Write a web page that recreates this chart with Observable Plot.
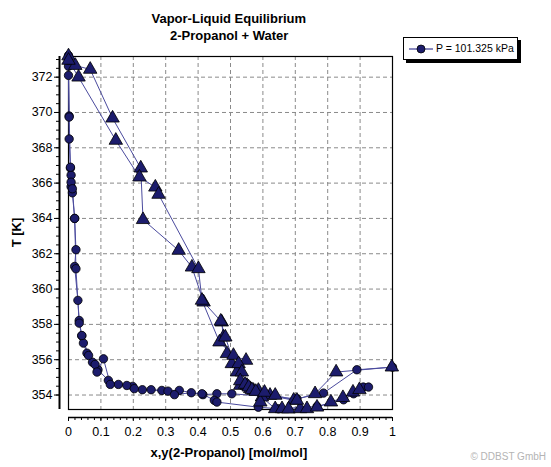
<!DOCTYPE html>
<html><head><meta charset="utf-8">
<script src="https://cdn.jsdelivr.net/npm/d3@7"></script>
<script src="https://cdn.jsdelivr.net/npm/@observablehq/plot@0.6"></script>
<style>
body{margin:0;background:#fff;font-family:"Liberation Sans",Arial,sans-serif;}
#wrap{position:relative;width:551px;height:467px;overflow:hidden;background:#fff;}
#wrap svg.plot{position:absolute;left:0;top:0;}
.t{position:absolute;font-weight:bold;font-size:13px;color:#000;white-space:nowrap;line-height:1;}
#legend{position:absolute;left:403px;top:37px;width:113px;height:21px;border:1px solid #000;background:#fff;box-shadow:3px 3px 0 #000;font-size:10.5px;}
#legend span{position:absolute;left:32px;top:4px;white-space:nowrap;}
#legend svg{position:absolute;left:5px;top:4px;}
#copy{position:absolute;right:5px;top:452px;font-size:10px;line-height:1;color:#b4b4b4;white-space:nowrap;}
</style></head><body><div id="wrap"></div>
<script>
// ---- data ----
const title1 = "Vapor-Liquid Equilibrium";
const title2 = "2-Propanol + Water";
const xTitle = "x,y(2-Propanol) [mol/mol]";
const yTitle = "T [K]";
const legendLabel = "P = 101.325 kPa";

const xTicks = [0, 0.1, 0.2, 0.3, 0.4, 0.5, 0.6, 0.7, 0.8, 0.9, 1];
const xGrid = [0.1, 0.2, 0.3, 0.4, 0.5, 0.6, 0.7, 0.8, 0.9];
const yTicks = [354, 356, 358, 360, 362, 364, 366, 368, 370, 372];
const xDomain = [0, 1];
const yDomain = [353.18, 373.17];

// liquid (x) series 1
const liq1X = [0, 0, 0.002, 0.002, 0.006, 0.008, 0.008, 0.012, 0.019, 0.023, 0.019, 0.029, 0.033, 0.041, 0.046, 0.057, 0.074, 0.091, 0.123, 0.154, 0.198, 0.228, 0.288, 0.342, 0.415, 0.458, 0.504, 0.705, 0.787, 0.89, 1.0];
const liq1T = [373.23, 372.62, 369.8, 368.5, 366.85, 366.45, 365.8, 365.45, 364.0, 362.23, 361.28, 359.36, 358.22, 357.35, 356.94, 356.37, 355.86, 355.43, 354.83, 354.6, 354.49, 354.3, 354.26, 354.26, 354.02, 354.07, 354.07, 353.79, 354.11, 355.43, 355.58];
// liquid (x) series 2
const liq2X = [0, 0, 0.002, 0.006, 0.008, 0.012, 0.019, 0.023, 0.033, 0.041, 0.062, 0.082, 0.088, 0.108, 0.129, 0.18, 0.203, 0.255, 0.307, 0.327, 0.379, 0.412, 0.45, 0.458, 0.586, 0.648, 0.767, 0.849, 0.88, 0.91, 0.926];
const liq2T = [372.95, 372.1, 369.74, 366.9, 366.05, 365.68, 364.0, 361.15, 358.07, 357.37, 356.24, 355.73, 355.3, 356.05, 354.6, 354.54, 354.36, 354.3, 354.22, 354.02, 354.13, 354.07, 353.7, 353.6, 353.31, 353.22, 353.35, 353.73, 354.07, 354.45, 354.45];
// vapour (y) series 1
const vap1X = [0, 0.021, 0.067, 0.136, 0.223, 0.23, 0.34, 0.381, 0.417, 0.473, 0.478, 0.489, 0.504, 0.52, 0.53, 0.561, 0.586, 0.622, 0.695, 0.761, 0.826, 0.998];
const vap1T = [373.2, 372.66, 372.44, 369.68, 366.85, 363.93, 362.19, 361.24, 359.26, 358.13, 357.28, 356.34, 355.77, 355.3, 354.54, 354.36, 354.26, 353.98, 353.7, 354.07, 355.3, 355.58];
// vapour (y) series 2
const vap2X = [0, 0.031, 0.146, 0.219, 0.268, 0.278, 0.401, 0.412, 0.466, 0.509, 0.548, 0.525, 0.535, 0.551, 0.571, 0.597, 0.638, 0.659, 0.679, 0.715, 0.736, 0.767, 0.81, 0.847, 0.878, 0.898];
const vap2T = [372.95, 372.0, 368.42, 366.34, 365.77, 365.36, 361.15, 359.36, 357.0, 356.24, 355.96, 355.77, 355.3, 354.54, 354.26, 353.88, 353.22, 353.22, 353.2, 353.22, 353.22, 353.31, 353.6, 353.85, 354.16, 354.3];
// vapour (y) series 3
const vap3X = [0.47, 0.484, 0.53, 0.545, 0.556, 0.566, 0.578, 0.592, 0.605, 0.638, 0.705];
const vap3T = [358.18, 357.28, 354.8, 354.6, 354.45, 354.3, 354.2, 353.6, 354.15, 353.98, 353.7];

// ---- build tables ----
const mk = (xs, ts, series, phase) => xs.map((x, i) => ({x, T: ts[i], series, phase}));
const liquid = [...mk(liq1X, liq1T, "L1", "x"), ...mk(liq2X, liq2T, "L2", "x")];
const vapour = [...mk(vap1X, vap1T, "V1", "y"), ...mk(vap2X, vap2T, "V2", "y"), ...mk(vap3X, vap3T, "V3", "y")];
const all = [...liquid, ...vapour];

const xMinor = d3.range(0, 1.0001, 0.02);
const yMinor = d3.range(354, 373.1, 0.5);

const navy = "#1c1c6c";
const lineCol = "#4b4b9e";
const fmtX = d => String(+d.toFixed(1));

const chart = Plot.plot({
  width: 551, height: 467,
  marginTop: 56, marginBottom: 58, marginLeft: 68, marginRight: 159,
  x: {domain: xDomain},
  y: {domain: yDomain},
  style: {fontFamily: "'Liberation Sans', Arial, sans-serif", fontSize: "12.5px", background: "transparent", color: "#000"},
  marks: [
    Plot.gridY(yTicks, {stroke: "#8a8a8a", strokeOpacity: 1, strokeDasharray: "4,3"}),
    Plot.gridX(xGrid, {stroke: "#8a8a8a", strokeOpacity: 1, strokeDasharray: "4,3"}),
    Plot.frame({stroke: "#000", strokeWidth: 1.2}),
    Plot.ruleX([xDomain[0]], {dx: -9, stroke: "#000", strokeWidth: 2}),
    Plot.ruleY([yDomain[0]], {dy: 8, stroke: "#000", strokeWidth: 1.6}),
    Plot.axisY(yTicks, {tickSize: 5, dx: -9, tickPadding: 2, label: null, fontSize: 12.5}),
    Plot.axisY(yMinor, {tickSize: 3, dx: -9, fill: "none", label: null}),
    Plot.axisX(xTicks, {tickSize: 4, dy: 8, tickPadding: 6, tickFormat: fmtX, label: null, fontSize: 12.5}),
    Plot.axisX(xMinor, {tickSize: 3, dy: 8, fill: "none", label: null}),
    Plot.line(all, {x: "x", y: "T", z: "series", stroke: lineCol, strokeWidth: 1}),
    Plot.dot(liquid, {x: "x", y: "T", r: 4.2, symbol: "circle", fill: navy, stroke: "#000", strokeWidth: 0.8}),
    Plot.dot(vapour, {x: "x", y: "T", r: 5, symbol: "triangle", fill: navy, stroke: "#000", strokeWidth: 0.8})
  ]
});
chart.classList.add("plot");
const wrap = document.getElementById("wrap");
wrap.appendChild(chart);

function addText(txt, cx, cy, rot) {
  const d = document.createElement("div");
  d.className = "t";
  d.textContent = txt;
  wrap.appendChild(d);
  const w = d.offsetWidth, h = d.offsetHeight;
  d.style.left = (cx - w / 2) + "px";
  d.style.top = (cy - h / 2) + "px";
  if (rot) d.style.transform = `rotate(${rot}deg)`;
}
addText(title1, 229, 18);
addText(title2, 229, 35);
addText(xTitle, 229, 452);
addText(yTitle, 17, 232, -90);

const lg = document.createElement("div");
lg.id = "legend";
lg.innerHTML = `<svg width="24" height="14"><line x1="0" y1="7" x2="24" y2="7" stroke="${lineCol}" stroke-width="1.3"/><circle cx="12" cy="7" r="4" fill="${navy}" stroke="#000" stroke-width="0.8"/></svg><span></span>`;
lg.querySelector("span").textContent = legendLabel;
wrap.appendChild(lg);

const cp = document.createElement("div");
cp.id = "copy";
cp.textContent = "\u00A9 DDBST GmbH";
wrap.appendChild(cp);
</script>
</body></html>
